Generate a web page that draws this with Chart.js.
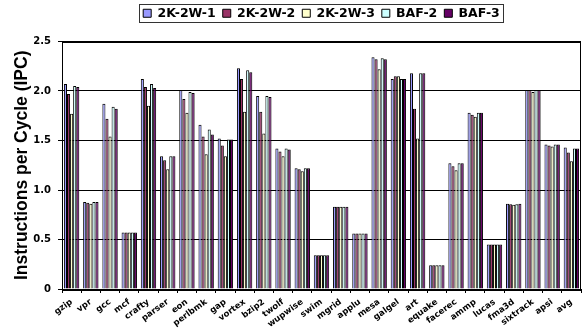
<!DOCTYPE html>
<html>
<head>
<meta charset="utf-8">
<script src="https://cdn.jsdelivr.net/npm/chart.js@4/dist/chart.umd.min.js"></script>
<style>
  html, body { margin: 0; padding: 0; background: #fff; }
  #wrap { width: 583px; height: 330px; }
</style>
</head>
<body>
<div id="wrap"><canvas id="ipc" width="583" height="330"></canvas></div>
<script>
// SPEC benchmarks on the x axis
const benchmarks = ['gzip','vpr','gcc','mcf','crafty','parser','eon','perlbmk','gap','vortex','bzip2','twolf','wupwise','swim','mgrid','applu','mesa','galgel','art','equake','facerec','ammp','lucas','fma3d','sixtrack','apsi','avg'];

// IPC per configuration
const ipc2K2W1 = [2.07,0.88,1.87,0.57,2.12,1.34,2.01,1.66,1.52,2.23,1.95,1.42,1.22,0.34,0.83,0.56,2.34,2.12,2.18,0.24,1.27,1.78,0.45,0.86,2.01,1.46,1.43];
const ipc2K2W2 = [1.97,0.87,1.72,0.57,2.04,1.30,1.92,1.54,1.45,2.12,1.79,1.39,1.21,0.34,0.83,0.56,2.32,2.15,1.82,0.24,1.24,1.76,0.45,0.855,2.01,1.45,1.38];
const ipc2K2W3 = [1.77,0.86,1.54,0.57,1.85,1.21,1.78,1.36,1.34,1.79,1.57,1.34,1.19,0.34,0.83,0.56,2.22,2.15,1.52,0.24,1.20,1.74,0.45,0.85,1.99,1.44,1.29];
const ipcBAF2  = [2.05,0.88,1.84,0.57,2.07,1.34,1.99,1.61,1.51,2.21,1.95,1.42,1.22,0.34,0.83,0.56,2.33,2.12,2.18,0.24,1.27,1.78,0.45,0.855,2.01,1.46,1.42];
const ipcBAF3  = [2.04,0.88,1.82,0.57,2.03,1.34,1.98,1.56,1.51,2.19,1.94,1.41,1.22,0.34,0.83,0.56,2.32,2.12,2.18,0.24,1.27,1.78,0.45,0.86,2.01,1.46,1.42];

const seriesNames = ['2K-2W-1','2K-2W-2','2K-2W-3','BAF-2','BAF-3'];
const seriesValues = [ipc2K2W1, ipc2K2W2, ipc2K2W3, ipcBAF2, ipcBAF3];
const seriesColors = ['#9999FF','#993366','#FFFFCC','#CCFFFF','#660066'];

// Frame around the plot area and a box around the legend
const framePlugin = {
  id: 'frames',
  afterDraw(chart) {
    const ctx = chart.ctx;
    const a = chart.chartArea;
    ctx.save();
    ctx.strokeStyle = '#000';
    ctx.lineWidth = 1;
    ctx.strokeRect(Math.round(a.left) + 0.5, Math.round(a.top) + 0.5,
                   Math.round(a.right - a.left) - 1, Math.round(a.bottom - a.top));
    const lg = chart.legend;
    if (lg && lg.legendHitBoxes && lg.legendHitBoxes.length) {
      const hb = lg.legendHitBoxes;
      let l = Infinity, r = -Infinity, cy = 0;
      hb.forEach(h => { l = Math.min(l, h.left); r = Math.max(r, h.left + h.width); cy = h.top + h.height / 2; });
      ctx.strokeStyle = '#333';
      ctx.strokeRect(Math.round(l - 4) + 0.5, Math.round(cy - 9) + 0.5, Math.round(r - l + 7), 18);
    }
    ctx.restore();
  }
};

new Chart(document.getElementById('ipc'), {
  type: 'bar',
  data: {
    labels: benchmarks,
    datasets: seriesNames.map((name, i) => ({
      label: name,
      data: seriesValues[i],
      backgroundColor: seriesColors[i],
      borderColor: '#000',
      borderWidth: 1,
      categoryPercentage: 0.8,
      barPercentage: 1.0
    }))
  },
  options: {
    responsive: false,
    animation: false,
    layout: { padding: { top: 0, right: 2, bottom: 0, left: 0 } },
    plugins: {
      tooltip: { enabled: false },
      legend: {
        position: 'top',
        fullSize: false,
        labels: {
          color: '#000',
          boxWidth: 8,
          boxHeight: 8,
          padding: 7,
          font: { family: 'DejaVu Sans', weight: 'bold', size: 12.5 }
        }
      }
    },
    scales: {
      x: {
        grid: { display: true, drawOnChartArea: false, drawTicks: true, tickLength: 4, color: '#000', offset: true },
        border: { display: true, color: '#000', width: 1 },
        ticks: {
          autoSkip: false,
          minRotation: 36,
          maxRotation: 36,
          padding: 4,
          color: '#000',
          font: { family: 'DejaVu Sans', weight: 'bold', size: 8.5 }
        },
        afterFit(s) { s.height = 41; }
      },
      xTop: {
        type: 'category',
        position: 'top',
        display: true,
        grid: { display: false, drawTicks: false },
        border: { display: false },
        ticks: { display: false },
        afterFit(s) { s.height = 12; }
      },
      y: {
        min: 0,
        max: 2.5,
        ticks: {
          stepSize: 0.5,
          padding: 7,
          color: '#000',
          font: { family: 'DejaVu Sans', weight: 'bold', size: 10 }
        },
        grid: { color: '#000', lineWidth: 1, drawTicks: true, tickLength: 4 },
        border: { display: true, color: '#000', width: 1 },
        title: {
          display: true,
          text: 'Instructions per Cycle (IPC)',
          color: '#000',
          padding: { top: 12, bottom: 0 },
          font: { family: 'Liberation Sans', weight: 'bold', size: 17.5 }
        },
        afterFit(s) { s.width = 62; }
      }
    }
  },
  plugins: [framePlugin]
});
</script>
</body>
</html>
